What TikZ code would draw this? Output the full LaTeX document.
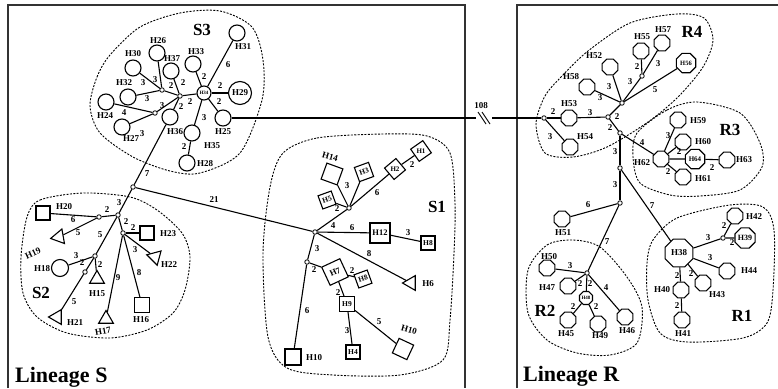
\documentclass[tikz,border=0pt]{standalone}
\usepackage{fontspec}
\setmainfont{Liberation Serif}
\usetikzlibrary{shapes.geometric}
\tikzset{
  frame/.style={line width=1.4pt, draw=black!80},
  hull/.style={line width=0.9pt, dash pattern=on 2pt off 1.4pt},
  link/.style={line width=1.1pt},
  hapc/.style={circle, draw, line width=1.1pt, fill=white, minimum size=16pt, inner sep=0pt},
  hapo/.style={regular polygon, regular polygon sides=8, draw, line width=1.1pt, fill=white, minimum size=17pt, inner sep=0pt},
  haps/.style={rectangle, draw, line width=1.1pt, fill=white, minimum size=14pt, inner sep=1pt, font=\bfseries\fontsize{7.5}{8}\selectfont},
  hapd/.style={regular polygon, regular polygon sides=4, draw, line width=1.1pt, fill=white, minimum size=21pt, inner sep=0pt, font=\bfseries\fontsize{7}{7}\selectfont},
  hapt/.style={regular polygon, regular polygon sides=3, draw, line width=1.1pt, fill=white, minimum size=17pt, inner sep=0pt},
  jn/.style={circle, draw, line width=0.8pt, fill=white, minimum size=4.5pt, inner sep=0pt},
  hlab/.style={font=\bfseries\fontsize{9}{9}\selectfont, inner sep=0pt},
  tiny/.style={font=\bfseries\fontsize{5}{5}\selectfont},
  mut/.style={font=\bfseries\fontsize{9}{9}\selectfont, inner sep=0pt},
  grp/.style={font=\bfseries\fontsize{17}{18}\selectfont, inner sep=0pt},
  lin/.style={font=\bfseries\fontsize{22}{24}\selectfont, inner sep=0pt}
}
\begin{document}
\begin{tikzpicture}[x=1pt, y=-1pt]
\useasboundingbox (0,0) rectangle (778,388);
% lineage frames
\draw[frame] (8,388) -- (8,5) -- (465,5) -- (465,388);
\draw[frame] (517,388) -- (517,5) -- (778,5);

% groups
\draw[hull] plot[smooth cycle] coordinates {(90,106) (97,77) (110,55) (140,27) (180,13) (220,11) (252,27) (263,60) (262,100) (240,153) (200,173) (170,171) (133,157) (100,133)};
\draw[hull] plot[smooth cycle] coordinates {(27,217) (40,200) (83,193) (130,197) (157,210) (182,233) (190,257) (185,290) (173,313) (147,330) (110,338) (67,333) (37,317) (23,293) (21,257)};
\draw[hull] plot[smooth cycle] coordinates {(283,153) (317,138) (383,134) (427,136) (450,153) (455,203) (454,253) (450,320) (443,360) (400,375) (333,375) (287,368) (268,337) (263,253) (270,187)};
\draw[hull] plot[smooth cycle] coordinates {(536,124) (545,96) (562,76) (588,51) (630,23) (677,14) (704,18) (713,40) (703,67) (678,97) (648,122) (607,147) (573,157) (545,153)};
\draw[hull] plot[smooth cycle] coordinates {(637,133) (667,110) (697,102) (740,113) (760,143) (762,167) (740,190) (700,196) (670,195) (640,183) (633,157)};
\draw[hull] plot[smooth cycle] coordinates {(653,240) (677,218) (730,205) (763,207) (774,230) (773,290) (767,323) (743,338) (687,342) (660,333) (648,300) (647,263)};
\draw[hull] plot[smooth cycle] coordinates {(528,270) (547,245) (573,240) (600,247) (627,277) (642,307) (637,343) (610,355) (577,353) (547,340) (528,313)};

% group S3
\node[jn] (s3a) at (180,96) {};
\node[jn] (s3b) at (162,90) {};
\node[jn] (s3c) at (155,113) {};
\node[hapc, minimum size=14pt, tiny] (H34) at (204,93) {H34};
\node[hapc] (H31) at (237,33) {};
\node[hapc] (H33) at (193,64) {};
\node[hapc] (H37) at (171,71) {};
\node[hapc] (H26) at (157,53) {};
\node[hapc] (H30) at (133,68) {};
\node[hapc] (H32) at (128,97) {};
\node[hapc] (H24) at (106,102) {};
\node[hapc] (H27) at (122,127) {};
\node[hapc] (H36) at (170,117) {};
\node[hapc] (H35) at (192,133) {};
\node[hapc] (H28) at (187,163) {};
\node[hapc] (H25) at (223,118) {};
\node[hapc, minimum size=23pt, hlab] (H29) at (240,93) {H29};
\node[hlab] (tH31) at (243,47) {H31};
\node[hlab] (tH33) at (196,52) {H33};
\node[hlab] (tH37) at (172,59) {H37};
\node[hlab] (tH26) at (158,41) {H26};
\node[hlab] (tH30) at (133,54) {H30};
\node[hlab] (tH32) at (124,83) {H32};
\node[hlab] (tH24) at (105,116) {H24};
\node[hlab] (tH27) at (131,139) {H27};
\node[hlab] (tH36) at (175,132) {H36};
\node[hlab] (tH35) at (212,146) {H35};
\node[hlab] (tH28) at (205,164) {H28};
\node[hlab] (tH25) at (223,132) {H25};
\node[grp] (S3) at (202,30) {S3};

\draw[link] (H31) -- (H34) node[mut] at (228,65) {6};
\draw[link] (H33) -- (H34) node[mut] at (204,77) {2};
\draw[link] (H34) -- (H29) node[mut] at (220,86) {2};
\draw[link] (H34) -- (H25) node[mut] at (219,102) {2};
\draw[link] (H34) -- (H35) node[mut] at (204,118) {3};
\draw[link] (H35) -- (H28) node[mut] at (184,147) {2};
\draw[link] (s3a) -- (H34) node[mut] at (190,102) {2};
\draw[link] (s3b) -- (s3a) node[mut] at (171,86) {2};
\draw[link] (H37) -- (s3a) node[mut] at (183,83) {2};
\draw[link] (H36) -- (s3a) node[mut] at (181,107) {2};
\draw[link] (s3b) -- (H26) node[mut] at (155,80) {3};
\draw[link] (s3b) -- (H30) node[mut] at (143,83) {3};
\draw[link] (s3b) -- (H32) node[mut] at (147,99) {3};
\draw[link] (s3c) -- (H24) node[mut] at (124,113) {4};
\draw[link] (s3c) -- (H27) node[mut] at (142,134) {3};
\draw[link] (s3c) -- (s3a) node[mut] at (162,106) {3};

% group S2
\node[jn] (s2a) at (133,187) {};
\node[jn] (s2b) at (118,215) {};
\node[jn] (s2c) at (99,217) {};
\node[jn] (s2d) at (123,233) {};
\node[jn] (s2e) at (95,256) {};
\node[jn] (s2f) at (85,272) {};
\node[haps] (H20) at (43,213) {};
\node[hapt, shape border rotate=100] (H19) at (59,237) {};
\node[haps] (H23) at (147,233) {};
\node[hapt, shape border rotate=75] (H22) at (155,257) {};
\node[hapc, minimum size=17pt] (H18) at (60,268) {};
\node[hapt] (H15) at (97,279) {};
\node[hapt, shape border rotate=90] (H21) at (57,317) {};
\node[hapt] (H17) at (106,319) {};
\node[haps, minimum size=15pt] (H16) at (142,305) {};
\node[hlab] (tH20) at (64,207) {H20};
\node[hlab, rotate=25] (tH19) at (33,253) {H19};
\node[hlab] (tH23) at (168,234) {H23};
\node[hlab] (tH22) at (169,265) {H22};
\node[hlab] (tH18) at (42,269) {H18};
\node[hlab] (tH15) at (97,294) {H15};
\node[hlab] (tH21) at (75,323) {H21};
\node[hlab, rotate=10] (tH17) at (103,331) {H17};
\node[hlab] (tH16) at (141,320) {H16};
\node[grp] (S2) at (41,293) {S2};

\draw[link] (H36) -- (s2a) node[mut] at (147,174) {7};
\draw[link] (s2a) -- (s2b) node[mut] at (119,203) {3};
\draw[link] (s2b) -- (s2c) node[mut] at (107,210) {2};
\draw[link] (s2c) -- (H20) node[mut] at (73,220) {6};
\draw[link] (s2c) -- (H19) node[mut] at (78,233) {5};
\draw[link] (s2b) -- (s2e) node[mut] at (100,235) {5};
\draw[link] (s2b) -- (s2d) node[mut] at (126,222) {2};
\draw[link] (s2d) -- (H23) node[mut] at (133,228) {2};
\draw[link] (s2d) -- (H22) node[mut] at (135,250) {3};
\draw[link] (s2d) -- (H17) node[mut] at (118,278) {9};
\draw[link] (s2d) -- (H16) node[mut] at (139,273) {8};
\draw[link] (s2e) -- (H18) node[mut] at (76,256) {3};
\draw[link] (s2e) -- (s2f) node[mut] at (82,263) {2};
\draw[link] (s2e) -- (H15) node[mut] at (100,265) {2};
\draw[link] (s2f) -- (H21) node[mut] at (74,302) {5};

% group S1
\node[jn] (s1a) at (315,232) {};
\node[jn] (s1b) at (349,208) {};
\node[jn] (s1c) at (307,262) {};
\node[haps, minimum size=17pt, rotate=-20] (H14) at (332,174) {};
\node[haps, minimum size=15pt, rotate=20] (H3) at (364,172) {H3};
\node[haps, rotate=20] (H5) at (327,200) {H5};
\node[hapd, shape border rotate=40] (H2) at (395,169) {H2};
\node[hapd, shape border rotate=35] (H1) at (421,151) {H1};
\node[haps, minimum size=20pt, font=\bfseries\fontsize{8.5}{9}\selectfont] (H12) at (380,233) {H12};
\node[haps] (H8a) at (428,243) {H8};
\node[hapt, shape border rotate=90] (H6) at (411,283) {};
\node[haps, minimum size=20pt, rotate=25, font=\bfseries\fontsize{8.5}{9}\selectfont] (H7) at (335,272) {H7};
\node[haps, rotate=20] (H8b) at (363,279) {H8};
\node[haps, minimum size=15pt] (H9) at (347,304) {H9};
\node[haps] (H4) at (353,352) {H4};
\node[haps, minimum size=16pt, rotate=-25] (H10a) at (403,349) {};
\node[haps, minimum size=16pt] (H10b) at (293,357) {};
\node[hlab, rotate=-15] (tH14) at (330,157) {H14};
\node[hlab] (tH6) at (428,284) {H6};
\node[hlab, rotate=-15] (tH10a) at (409,330) {H10};
\node[hlab] (tH10b) at (314,358) {H10};
\node[grp] (S1) at (437,207) {S1};

\draw[link] (H14) -- (s1b) node[mut] at (347,186) {3};
\draw[link] (H3) -- (s1b);
\draw[link] (H5) -- (s1b) node[mut] at (337,209) {2};
\draw[link] (s1b) -- (H2) node[mut] at (377,193) {6};
\draw[link] (H2) -- (H1) node[mut] at (412,165) {2};
\draw[link] (s1a) -- (s1b) node[mut] at (333,226) {4};
\draw[link] (s1a) -- (H12) node[mut] at (352,228) {6};
\draw[link] (H12) -- (H8a) node[mut] at (408,233) {3};
\draw[link] (s1a) -- (H6) node[mut] at (369,254) {8};
\draw[link] (s1a) -- (s1c) node[mut] at (317,249) {3};
\draw[link] (s1c) -- (H7) node[mut] at (314,270) {2};
\draw[link] (H7) -- (H8b) node[mut] at (352,271) {2};
\draw[link] (H7) -- (H9) node[mut] at (338,293) {2};
\draw[link] (H9) -- (H4) node[mut] at (347,331) {3};
\draw[link] (H9) -- (H10a) node[mut] at (379,322) {5};
\draw[link] (s1c) -- (H10b) node[mut] at (307,311) {6};
\draw[link] (s2a) -- (s1a) node[mut] at (214,200) {21};

% lineage R
\node[jn] (r0) at (544,118) {};
\node[jn] (r1) at (608,117) {};
\node[jn] (r2) at (622,103) {};
\node[jn] (r3) at (642,76) {};
\node[jn] (r4) at (620,133) {};
\node[jn] (r5) at (620,168) {};
\node[jn] (r6) at (620,203) {};
\node[jn] (r7) at (587,273) {};
\node[jn] (r8) at (723,238) {};
% group R4
\node[hapo] (H53) at (569,118) {};
\node[hapo] (H54) at (570,147) {};
\node[hapo] (H58) at (587,87) {};
\node[hapo] (H52) at (610,67) {};
\node[hapo] (H55) at (641,51) {};
\node[hapo] (H57) at (662,43) {};
\node[hapo, minimum size=21pt, font=\bfseries\fontsize{6.5}{7}\selectfont] (H56) at (686,63) {H56};
\node[hlab] (tH53) at (569,104) {H53};
\node[hlab] (tH54) at (585,137) {H54};
\node[hlab] (tH58) at (571,77) {H58};
\node[hlab] (tH52) at (594,56) {H52};
\node[hlab] (tH55) at (642,37) {H55};
\node[hlab] (tH57) at (663,30) {H57};
\node[grp] (R4) at (692,32) {R4};
% group R3
\node[hapo] (H62) at (661,159) {};
\node[hapo] (H59) at (678,120) {};
\node[hapo] (H60) at (683,142) {};
\node[hapo, minimum size=21pt, font=\bfseries\fontsize{7}{7}\selectfont] (H64) at (695,159) {H64};
\node[hapo] (H63) at (727,160) {};
\node[hapo] (H61) at (683,177) {};
\node[hlab] (tH62) at (642,163) {H62};
\node[hlab] (tH59) at (698,121) {H59};
\node[hlab] (tH60) at (703,142) {H60};
\node[hlab] (tH63) at (744,160) {H63};
\node[hlab] (tH61) at (703,179) {H61};
\node[grp] (R3) at (730,130) {R3};
% group R2
\node[hapo] (H51) at (562,219) {};
\node[hapo] (H50) at (547,268) {};
\node[hapo] (H47) at (568,286) {};
\node[hapo, minimum size=14pt, tiny] (H48) at (586,298) {H48};
\node[hapo] (H45) at (568,320) {};
\node[hapo] (H49) at (598,324) {};
\node[hapo] (H46) at (625,317) {};
\node[hlab] (tH51) at (563,233) {H51};
\node[hlab] (tH50) at (549,257) {H50};
\node[hlab] (tH47) at (547,288) {H47};
\node[hlab] (tH45) at (566,334) {H45};
\node[hlab] (tH49) at (600,336) {H49};
\node[hlab] (tH46) at (627,331) {H46};
\node[grp] (R2) at (545,311) {R2};
% group R1
\node[hapo, minimum size=30pt, hlab] (H38) at (679,253) {H38};
\node[hapo] (H42) at (735,216) {};
\node[hapo, minimum size=19pt, font=\bfseries\fontsize{8}{8}\selectfont] (H39) at (745,238) {H39};
\node[hapo] (H44) at (727,271) {};
\node[hapo] (H43) at (703,283) {};
\node[hapo] (H40) at (681,290) {};
\node[hapo] (H41) at (682,320) {};
\node[hlab] (tH42) at (754,217) {H42};
\node[hlab] (tH44) at (749,271) {H44};
\node[hlab] (tH43) at (717,295) {H43};
\node[hlab] (tH40) at (662,290) {H40};
\node[hlab] (tH41) at (683,334) {H41};
\node[grp] (R1) at (742,316) {R1};

\draw[link] (r0) -- (H53) node[mut] at (553,112) {2};
\draw[link] (H53) -- (r1) node[mut] at (590,113) {3};
\draw[link] (r0) -- (H54) node[mut] at (550,137) {3};
\draw[link] (r1) -- (r2) node[mut] at (617,117) {2};
\draw[link] (r1) -- (r4) node[mut] at (610,128) {2};
\draw[link] (r2) -- (H58) node[mut] at (600,98) {3};
\draw[link] (r2) -- (H52) node[mut] at (609,87) {3};
\draw[link] (r2) -- (r3) node[mut] at (630,82) {3};
\draw[link] (r3) -- (H55) node[mut] at (637,67) {2};
\draw[link] (r3) -- (H57) node[mut] at (658,64) {3};
\draw[link] (r2) -- (H56) node[mut] at (655,90) {5};
\draw[link] (r4) -- (H62) node[mut] at (642,143) {4};
\draw[link] (H62) -- (H59) node[mut] at (668,136) {3};
\draw[link] (H62) -- (H60);
\draw[link] (H62) -- (H64) node[mut] at (679,152) {2};
\draw[link] (H62) -- (H61) node[mut] at (668,172) {2};
\draw[link] (H64) -- (H63) node[mut] at (712,168) {2};
\draw[link] (r4) -- (r5) node[mut] at (615,152) {3};
\draw[link] (r5) -- (r6) node[mut] at (615,185) {3};
\draw[link] (r5) -- (H38) node[mut] at (652,206) {7};
\draw[link] (r6) -- (H51) node[mut] at (588,205) {6};
\draw[link] (r6) -- (r7) node[mut] at (607,242) {7};
\draw[link] (r7) -- (H50) node[mut] at (570,266) {3};
\draw[link] (r7) -- (H47) node[mut] at (580,284) {2};
\draw[link] (r7) -- (H48) node[mut] at (590,284) {2};
\draw[link] (r7) -- (H46) node[mut] at (606,288) {4};
\draw[link] (H48) -- (H45) node[mut] at (573,307) {2};
\draw[link] (H48) -- (H49) node[mut] at (596,307) {2};
\draw[link] (H38) -- (r8) node[mut] at (708,238) {3};
\draw[link] (r8) -- (H42) node[mut] at (724,226) {2};
\draw[link] (r8) -- (H39) node[mut] at (732,243) {2};
\draw[link] (H38) -- (H44) node[mut] at (710,258) {3};
\draw[link] (H38) -- (H43) node[mut] at (691,274) {2};
\draw[link] (H38) -- (H40) node[mut] at (677,276) {2};
\draw[link] (H40) -- (H41) node[mut] at (677,306) {2};

% long link between lineages
\coordinate (cutL) at (476,118);
\coordinate (cutR) at (492,118);
\draw[link] (H25) -- (cutL) node[mut] at (481,106) {108};
\draw[link] (cutR) -- (r0);
\draw[line width=0.9pt] (478,112) -- (486,124) (482,112) -- (490,124);

\node[lin, anchor=base west] (linS) at (15,382) {Lineage S};
\node[lin, anchor=base west] (linR) at (523,381) {Lineage R};
\end{tikzpicture}
\end{document}
